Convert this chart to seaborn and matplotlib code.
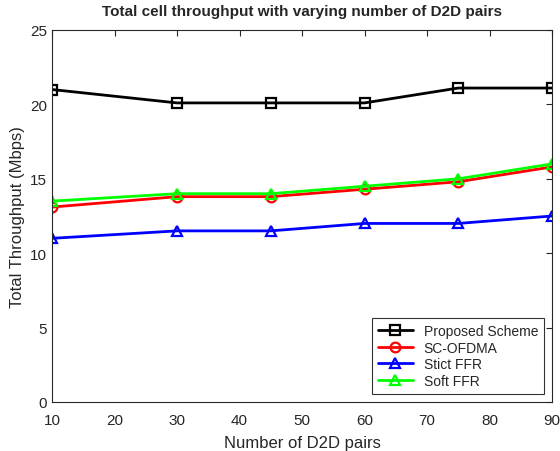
import numpy as np
import pandas as pd
import matplotlib
matplotlib.use("Agg")
import matplotlib.pyplot as plt
import seaborn as sns

## Data
d2d_pairs = [10, 30, 45, 60, 75, 90]
proposed = [21.0, 20.1, 20.1, 20.1, 21.1, 21.1]
sc_ofdma = [13.1, 13.8, 13.8, 14.3, 14.8, 15.8]
strict_ffr = [11.0, 11.5, 11.5, 12.0, 12.0, 12.5]
soft_ffr = [13.5, 14.0, 14.0, 14.5, 15.0, 16.0]

series_names = ["Proposed Scheme", "SC-OFDMA", "Stict FFR", "Soft FFR"]
colors = ["black", "red", "blue", "#00ff00"]
markers = ["s", "o", "^", "^"]

df = pd.DataFrame({
    "pairs": d2d_pairs * 4,
    "throughput": proposed + sc_ofdma + strict_ffr + soft_ffr,
    "scheme": sum([[n] * len(d2d_pairs) for n in series_names], []),
})

sns.set_style("white")
plt.rcParams['font.family'] = ['Liberation Sans', 'DejaVu Sans']

fig = plt.figure(figsize=(5.6, 4.52), dpi=100)
ax = fig.add_axes([52 / 560, 1 - 403 / 452, 500 / 560, 372 / 452])

sns.lineplot(data=df, x="pairs", y="throughput", hue="scheme", style="scheme",
             palette=colors, markers=markers, dashes=False, linewidth=2,
             markersize=7, markerfacecolor="none", markeredgewidth=1.6, ax=ax)
# hollow markers in the line colour
for line, c in zip(ax.get_lines(), colors):
    line.set_markeredgecolor(c)
    line.set_markerfacecolor("none")

ax.set_xlim(10, 90)
ax.set_ylim(0, 25)
ax.set_xticks(np.arange(10, 91, 10))
ax.set_yticks(np.arange(0, 26, 5))
ax.tick_params(direction="in", length=4, labelsize=11, top=True, right=True,
               labeltop=False, labelright=False, color="#262626")
ax.tick_params(axis="x", pad=8)
for s in ax.spines.values():
    s.set_color("#262626")
    s.set_linewidth(0.8)
ax.set_xlabel("Number of D2D pairs", fontsize=12, color="#262626", labelpad=6)
ax.set_ylabel("Total Throughput (Mbps)", fontsize=12, color="#262626")
ax.set_title("Total cell throughput with varying number of D2D pairs",
             fontsize=11, fontweight="bold", pad=11)

handles, labels = ax.get_legend_handles_labels()
for h, c in zip(handles, colors):
    h.set_markeredgecolor(c)
    h.set_markerfacecolor("none")
leg = ax.legend(handles, labels, loc="lower right", fontsize=10, frameon=True,
                fancybox=False, edgecolor="black", handlelength=2.5,
                borderaxespad=0.6, labelspacing=0.2)
leg.get_frame().set_linewidth(0.8)

fig.savefig("out.png", dpi=100)
